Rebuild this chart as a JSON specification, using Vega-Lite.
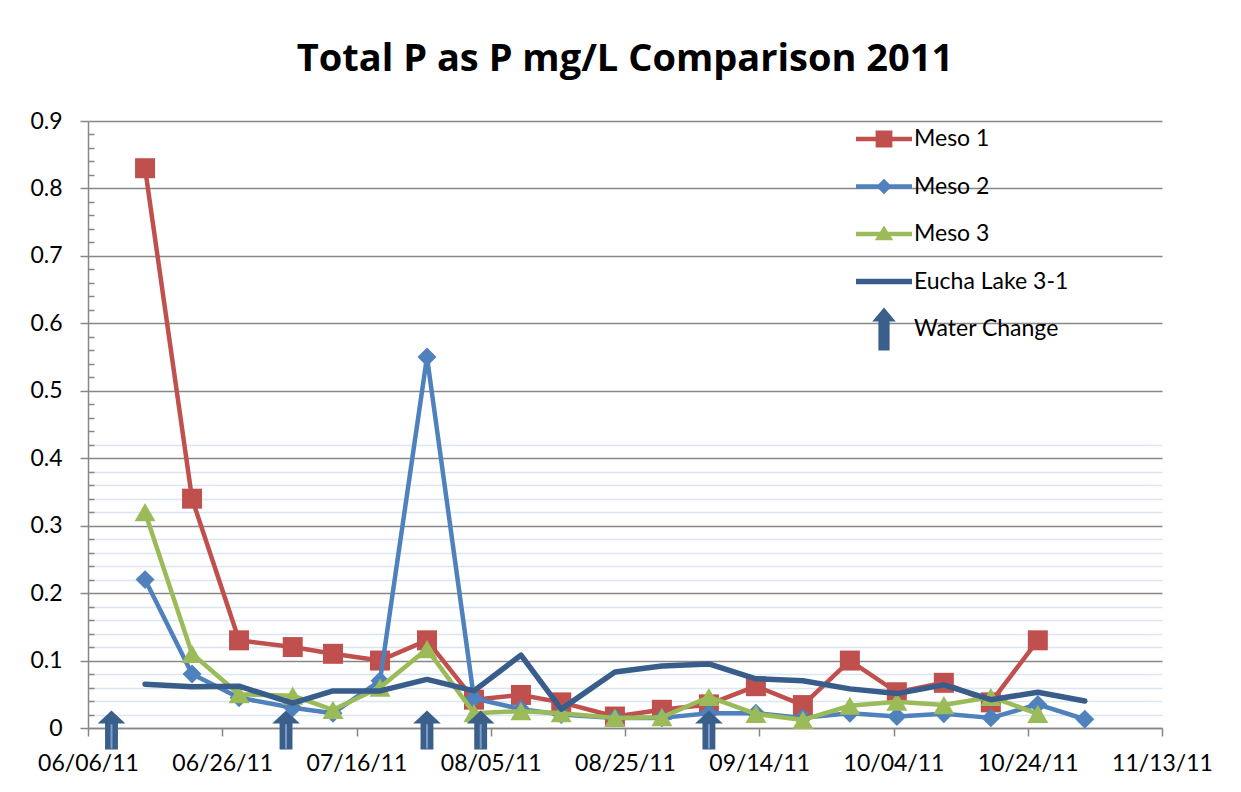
{
  "$schema": "https://vega.github.io/schema/vega-lite/v6.json",
  "autosize": {"type": "none"},
  "width": 1074,
  "height": 607,
  "padding": {"left": 88, "top": 121, "right": 79, "bottom": 64},
  "background": "white",
  "config": {"view": {"stroke": null}, "font": "Lato"},
  "title": {"text": "Total P as P mg/L Comparison 2011", "font": "Open Sans", "fontSize": 38, "fontWeight": "bold", "color": "#000000", "anchor": "middle", "baseline": "alphabetic", "offset": 1},
  "data": {"values": [
    {"date": "2011-06-14T12:00:00", "series": "Meso 1", "value": 0.83},
    {"date": "2011-06-21T12:00:00", "series": "Meso 1", "value": 0.34},
    {"date": "2011-06-28T12:00:00", "series": "Meso 1", "value": 0.13},
    {"date": "2011-07-06T12:00:00", "series": "Meso 1", "value": 0.12},
    {"date": "2011-07-12T12:00:00", "series": "Meso 1", "value": 0.11},
    {"date": "2011-07-19T12:00:00", "series": "Meso 1", "value": 0.10},
    {"date": "2011-07-26T12:00:00", "series": "Meso 1", "value": 0.13},
    {"date": "2011-08-02T12:00:00", "series": "Meso 1", "value": 0.042},
    {"date": "2011-08-09T12:00:00", "series": "Meso 1", "value": 0.049},
    {"date": "2011-08-15T12:00:00", "series": "Meso 1", "value": 0.038},
    {"date": "2011-08-23T12:00:00", "series": "Meso 1", "value": 0.017},
    {"date": "2011-08-30T12:00:00", "series": "Meso 1", "value": 0.027},
    {"date": "2011-09-06T12:00:00", "series": "Meso 1", "value": 0.035},
    {"date": "2011-09-13T12:00:00", "series": "Meso 1", "value": 0.062},
    {"date": "2011-09-20T12:00:00", "series": "Meso 1", "value": 0.034},
    {"date": "2011-09-27T12:00:00", "series": "Meso 1", "value": 0.10},
    {"date": "2011-10-04T12:00:00", "series": "Meso 1", "value": 0.053},
    {"date": "2011-10-11T12:00:00", "series": "Meso 1", "value": 0.067},
    {"date": "2011-10-18T12:00:00", "series": "Meso 1", "value": 0.038},
    {"date": "2011-10-25T12:00:00", "series": "Meso 1", "value": 0.13},
    {"date": "2011-06-14T12:00:00", "series": "Meso 2", "value": 0.22},
    {"date": "2011-06-21T12:00:00", "series": "Meso 2", "value": 0.08},
    {"date": "2011-06-28T12:00:00", "series": "Meso 2", "value": 0.045},
    {"date": "2011-07-06T12:00:00", "series": "Meso 2", "value": 0.03},
    {"date": "2011-07-12T12:00:00", "series": "Meso 2", "value": 0.022},
    {"date": "2011-07-19T12:00:00", "series": "Meso 2", "value": 0.07},
    {"date": "2011-07-26T12:00:00", "series": "Meso 2", "value": 0.55},
    {"date": "2011-08-02T12:00:00", "series": "Meso 2", "value": 0.044},
    {"date": "2011-08-09T12:00:00", "series": "Meso 2", "value": 0.028},
    {"date": "2011-08-15T12:00:00", "series": "Meso 2", "value": 0.02},
    {"date": "2011-08-23T12:00:00", "series": "Meso 2", "value": 0.015},
    {"date": "2011-08-30T12:00:00", "series": "Meso 2", "value": 0.015},
    {"date": "2011-09-06T12:00:00", "series": "Meso 2", "value": 0.022},
    {"date": "2011-09-13T12:00:00", "series": "Meso 2", "value": 0.022},
    {"date": "2011-09-20T12:00:00", "series": "Meso 2", "value": 0.015},
    {"date": "2011-09-27T12:00:00", "series": "Meso 2", "value": 0.022},
    {"date": "2011-10-04T12:00:00", "series": "Meso 2", "value": 0.017},
    {"date": "2011-10-11T12:00:00", "series": "Meso 2", "value": 0.021},
    {"date": "2011-10-18T12:00:00", "series": "Meso 2", "value": 0.015},
    {"date": "2011-10-25T12:00:00", "series": "Meso 2", "value": 0.035},
    {"date": "2011-11-01T12:00:00", "series": "Meso 2", "value": 0.013},
    {"date": "2011-06-14T12:00:00", "series": "Meso 3", "value": 0.32},
    {"date": "2011-06-21T12:00:00", "series": "Meso 3", "value": 0.11},
    {"date": "2011-06-28T12:00:00", "series": "Meso 3", "value": 0.05},
    {"date": "2011-07-06T12:00:00", "series": "Meso 3", "value": 0.048},
    {"date": "2011-07-12T12:00:00", "series": "Meso 3", "value": 0.027},
    {"date": "2011-07-19T12:00:00", "series": "Meso 3", "value": 0.06},
    {"date": "2011-07-26T12:00:00", "series": "Meso 3", "value": 0.117},
    {"date": "2011-08-02T12:00:00", "series": "Meso 3", "value": 0.022},
    {"date": "2011-08-09T12:00:00", "series": "Meso 3", "value": 0.025},
    {"date": "2011-08-15T12:00:00", "series": "Meso 3", "value": 0.022},
    {"date": "2011-08-23T12:00:00", "series": "Meso 3", "value": 0.015},
    {"date": "2011-08-30T12:00:00", "series": "Meso 3", "value": 0.016},
    {"date": "2011-09-06T12:00:00", "series": "Meso 3", "value": 0.046},
    {"date": "2011-09-13T12:00:00", "series": "Meso 3", "value": 0.021},
    {"date": "2011-09-20T12:00:00", "series": "Meso 3", "value": 0.012},
    {"date": "2011-09-27T12:00:00", "series": "Meso 3", "value": 0.033},
    {"date": "2011-10-04T12:00:00", "series": "Meso 3", "value": 0.039},
    {"date": "2011-10-11T12:00:00", "series": "Meso 3", "value": 0.034},
    {"date": "2011-10-18T12:00:00", "series": "Meso 3", "value": 0.046},
    {"date": "2011-10-25T12:00:00", "series": "Meso 3", "value": 0.021},
    {"date": "2011-06-14T12:00:00", "series": "Eucha Lake 3-1", "value": 0.065},
    {"date": "2011-06-21T12:00:00", "series": "Eucha Lake 3-1", "value": 0.061},
    {"date": "2011-06-28T12:00:00", "series": "Eucha Lake 3-1", "value": 0.062},
    {"date": "2011-07-06T12:00:00", "series": "Eucha Lake 3-1", "value": 0.037},
    {"date": "2011-07-12T12:00:00", "series": "Eucha Lake 3-1", "value": 0.055},
    {"date": "2011-07-19T12:00:00", "series": "Eucha Lake 3-1", "value": 0.055},
    {"date": "2011-07-26T12:00:00", "series": "Eucha Lake 3-1", "value": 0.072},
    {"date": "2011-08-02T12:00:00", "series": "Eucha Lake 3-1", "value": 0.055},
    {"date": "2011-08-09T12:00:00", "series": "Eucha Lake 3-1", "value": 0.108},
    {"date": "2011-08-15T12:00:00", "series": "Eucha Lake 3-1", "value": 0.028},
    {"date": "2011-08-23T12:00:00", "series": "Eucha Lake 3-1", "value": 0.083},
    {"date": "2011-08-30T12:00:00", "series": "Eucha Lake 3-1", "value": 0.092},
    {"date": "2011-09-06T12:00:00", "series": "Eucha Lake 3-1", "value": 0.095},
    {"date": "2011-09-13T12:00:00", "series": "Eucha Lake 3-1", "value": 0.073},
    {"date": "2011-09-20T12:00:00", "series": "Eucha Lake 3-1", "value": 0.07},
    {"date": "2011-09-27T12:00:00", "series": "Eucha Lake 3-1", "value": 0.058},
    {"date": "2011-10-04T12:00:00", "series": "Eucha Lake 3-1", "value": 0.051},
    {"date": "2011-10-11T12:00:00", "series": "Eucha Lake 3-1", "value": 0.064},
    {"date": "2011-10-18T12:00:00", "series": "Eucha Lake 3-1", "value": 0.042},
    {"date": "2011-10-25T12:00:00", "series": "Eucha Lake 3-1", "value": 0.053},
    {"date": "2011-11-01T12:00:00", "series": "Eucha Lake 3-1", "value": 0.04},
    {"date": "2011-06-09T12:00:00", "series": "Water Change"},
    {"date": "2011-07-05T12:00:00", "series": "Water Change"},
    {"date": "2011-07-26T12:00:00", "series": "Water Change"},
    {"date": "2011-08-03T12:00:00", "series": "Water Change"},
    {"date": "2011-09-06T12:00:00", "series": "Water Change"}
  ]},
  "encoding": {
    "x": {
      "field": "date", "type": "temporal",
      "scale": {"domain": [{"year": 2011, "month": 6, "date": 6}, {"year": 2011, "month": 11, "date": 13}], "nice": false},
      "axis": {
        "title": null,
        "values": [
          {"year": 2011, "month": 6, "date": 6}, {"year": 2011, "month": 6, "date": 26}, {"year": 2011, "month": 7, "date": 16},
          {"year": 2011, "month": 8, "date": 5}, {"year": 2011, "month": 8, "date": 25}, {"year": 2011, "month": 9, "date": 14},
          {"year": 2011, "month": 10, "date": 4}, {"year": 2011, "month": 10, "date": 24}, {"year": 2011, "month": 11, "date": 13}
        ],
        "format": "%m/%d/%y",
        "grid": false,
        "domainColor": "#878787", "domainWidth": 1.5,
        "tickColor": "#878787", "tickWidth": 1.5, "tickSize": 8,
        "labelFont": "Lato", "labelFontSize": 23, "labelColor": "#000000", "labelPadding": 16,
        "labelOverlap": false, "labelFlush": false
      }
    },
    "color": {
      "field": "series", "type": "nominal",
      "scale": {"domain": ["Meso 1", "Meso 2", "Meso 3", "Eucha Lake 3-1", "Water Change"], "range": ["#C0504D", "#4F81BD", "#9BBB59", "#385D8A", "#3A5F8B"]},
      "legend": {
        "title": null, "orient": "none", "legendX": 768, "legendY": -10, "padding": 0,
        "symbolSize": 3136, "labelFont": "Lato", "labelFontSize": 23, "labelColor": "#000000", "labelOffset": 2, "rowPadding": 7.5,
        "encode": {
          "symbols": {"update": {
            "shape": {"signal": "datum.value === 'Meso 1' ? 'M-1,-0.08L1,-0.08L1,0.08L-1,0.08Z M-0.3,-0.3L0.3,-0.3L0.3,0.3L-0.3,0.3Z' : datum.value === 'Meso 2' ? 'M-1,-0.08L1,-0.08L1,0.08L-1,0.08Z M-0.28,0L0,-0.28L0.28,0L0,0.28Z' : datum.value === 'Meso 3' ? 'M-1,-0.08L1,-0.08L1,0.08L-1,0.08Z M-0.33,0.22L0,-0.3L0.33,0.22Z' : datum.value === 'Eucha Lake 3-1' ? 'M-1,-0.1L1,-0.1L1,0.1L-1,0.1Z' : 'M-0.2,0.77L-0.2,-0.27L-0.42,-0.27L0,-0.77L0.42,-0.27L0.2,-0.27L0.2,0.77Z'"},
            "fill": {"signal": "scale('color', datum.value)"},
            "stroke": {"value": "transparent"},
            "strokeWidth": {"value": 0},
            "opacity": {"value": 1},
            "fillOpacity": {"value": 1},
            "size": {"value": 3136}
          }}
        }
      }
    }
  },
  "layer": [
    {
      "encoding": {
        "y": {
          "field": "value", "type": "quantitative",
          "scale": {"domain": [0, 0.9], "nice": false, "zero": false},
          "axis": {
            "title": null,
            "values": [0, 0.02, 0.04, 0.06, 0.08, 0.1, 0.12, 0.14, 0.16, 0.18, 0.2, 0.22, 0.24, 0.26, 0.28, 0.3, 0.32, 0.34, 0.36, 0.38, 0.4, 0.42, 0.44, 0.46, 0.48, 0.5, 0.52, 0.54, 0.56, 0.58, 0.6, 0.62, 0.64, 0.66, 0.68, 0.7, 0.72, 0.74, 0.76, 0.78, 0.8, 0.82, 0.84, 0.86, 0.88, 0.9],
            "labelExpr": "abs(datum.value * 10 - round(datum.value * 10)) < 0.001 ? format(datum.value, '.1~f') : ''",
            "grid": true,
            "gridColor": {"condition": {"test": "abs(datum.value * 10 - round(datum.value * 10)) < 0.001", "value": "#878787"}, "value": "#DCE6F2"},
            "gridOpacity": {"condition": {"test": "datum.value > 0.43 && abs(datum.value * 10 - round(datum.value * 10)) > 0.001", "value": 0}, "value": 1},
            "gridWidth": 1.5,
            "domainColor": "#878787", "domainWidth": 1.5,
            "tickColor": "#878787", "tickWidth": 1.5,
            "tickSize": {"condition": {"test": "abs(datum.value * 10 - round(datum.value * 10)) < 0.001", "value": 8}, "value": -6},
            "labelFont": "Lato", "labelFontSize": 23, "labelColor": "#000000", "labelPadding": 18,
            "labelOverlap": false
          }
        }
      },
      "layer": [
        {"transform": [{"filter": "datum.series === 'Meso 1'"}], "mark": {"type": "line", "strokeWidth": 4.5, "strokeJoin": "round", "strokeCap": "round"}},
        {"transform": [{"filter": "datum.series === 'Meso 1'"}], "mark": {"type": "point", "shape": "square", "filled": true, "size": 400, "opacity": 1}},
        {"transform": [{"filter": "datum.series === 'Meso 2'"}], "mark": {"type": "line", "strokeWidth": 4.5, "strokeJoin": "round", "strokeCap": "round"}},
        {"transform": [{"filter": "datum.series === 'Meso 2'"}], "mark": {"type": "point", "shape": "diamond", "filled": true, "size": 360, "opacity": 1}},
        {"transform": [{"filter": "datum.series === 'Meso 3'"}], "mark": {"type": "line", "strokeWidth": 4.5, "strokeJoin": "round", "strokeCap": "round"}},
        {"transform": [{"filter": "datum.series === 'Meso 3'"}], "mark": {"type": "point", "shape": "triangle-up", "filled": true, "size": 441, "opacity": 1}},
        {"transform": [{"filter": "datum.series === 'Eucha Lake 3-1'"}], "mark": {"type": "line", "strokeWidth": 5.5, "strokeJoin": "round", "strokeCap": "round"}}
      ]
    },
    {
      "transform": [{"filter": "datum.series === 'Water Change'"}],
      "encoding": {
        "y": {
          "datum": 0, "type": "quantitative",
          "scale": {"domain": [0, 0.9], "nice": false, "zero": false},
          "axis": {
            "title": null,
            "values": [0, 0.02, 0.04, 0.06, 0.08, 0.1, 0.12, 0.14, 0.16, 0.18, 0.2, 0.22, 0.24, 0.26, 0.28, 0.3, 0.32, 0.34, 0.36, 0.38, 0.4, 0.42, 0.44, 0.46, 0.48, 0.5, 0.52, 0.54, 0.56, 0.58, 0.6, 0.62, 0.64, 0.66, 0.68, 0.7, 0.72, 0.74, 0.76, 0.78, 0.8, 0.82, 0.84, 0.86, 0.88, 0.9],
            "labelExpr": "abs(datum.value * 10 - round(datum.value * 10)) < 0.001 ? format(datum.value, '.1~f') : ''",
            "grid": true,
            "gridColor": {"condition": {"test": "abs(datum.value * 10 - round(datum.value * 10)) < 0.001", "value": "#878787"}, "value": "#DCE6F2"},
            "gridOpacity": {"condition": {"test": "datum.value > 0.43 && abs(datum.value * 10 - round(datum.value * 10)) > 0.001", "value": 0}, "value": 1},
            "gridWidth": 1.5,
            "domainColor": "#878787", "domainWidth": 1.5,
            "tickColor": "#878787", "tickWidth": 1.5,
            "tickSize": {"condition": {"test": "abs(datum.value * 10 - round(datum.value * 10)) < 0.001", "value": 8}, "value": -6},
            "labelFont": "Lato", "labelFontSize": 23, "labelColor": "#000000", "labelPadding": 18,
            "labelOverlap": false
          }
        }
      },
      "layer": [
        {"mark": {"type": "point", "shape": "M-0.33,1L-0.33,-0.33L-0.71,-0.33L0,-1L0.71,-0.33L0.33,-0.33L0.33,1Z", "filled": true, "size": 1521, "opacity": 1, "yOffset": 2}},
        {"mark": {"type": "point", "shape": "M-0.05,0.95L-0.05,-0.3L0.05,-0.3L0.05,0.95Z", "filled": true, "size": 1521, "opacity": 1, "yOffset": 2},
         "encoding": {"color": {"value": "#7E9CC8"}}}
      ]
    }
  ]
}
